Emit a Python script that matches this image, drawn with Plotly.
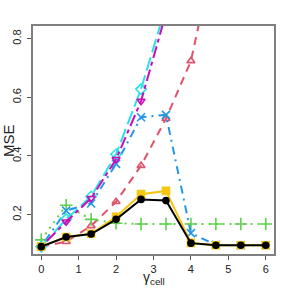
import plotly.graph_objects as go

gamma = [0, 2/3, 4/3, 2, 8/3, 10/3, 4, 14/3, 16/3, 6]

mse_black = [0.091, 0.124, 0.134, 0.184, 0.252, 0.248, 0.103, 0.096, 0.096, 0.096]
mse_yellow = [0.091, 0.124, 0.135, 0.193, 0.270, 0.281, 0.104, 0.096, 0.096, 0.096]
mse_green = [0.114, 0.232, 0.184, 0.171, 0.168, 0.168, 0.168, 0.168, 0.168, 0.168]
mse_pink = [0.091, 0.108, 0.162, 0.244, 0.367, 0.527, 0.724, 1.11, 1.50, 1.90]
mse_blue = [0.091, 0.214, 0.238, 0.373, 0.532, 0.540, 0.137, 0.097, 0.096, 0.096]
mse_cyan = [0.091, 0.185, 0.262, 0.406, 0.628, 0.910, 1.30, 1.70, 2.10, 2.50]
mse_magenta = [0.091, 0.176, 0.256, 0.389, 0.587, 0.886, 1.25, 1.65, 2.05, 2.45]

series = [
    (mse_pink, "#DF536B", "8px,6px", "triangle-up-open", 7),
    (mse_green, "#61D04F", "2px,5px", "cross-thin-open", 9),
    (mse_blue, "#2297E6", "2px,5px,8px,5px", "x-thin-open", 8),
    (mse_cyan, "#28E2E5", "14px,5px", "diamond-open", 8),
    (mse_magenta, "#CD0BBC", "4px,4px,12px,4px", "triangle-down-open", 7),
    (mse_yellow, "#F5C710", "solid", "square", 7),
    (mse_black, "#000000", "solid", "circle", 6),
]

fig = go.Figure()
for ys, col, dash, sym, sz in series:
    fig.add_trace(go.Scatter(
        x=gamma, y=ys, mode="lines+markers",
        line=dict(color=col, width=2, dash=dash),
        marker=dict(symbol=sym, size=sz, color=col,
                    line=dict(color=col, width=1.6)),
        cliponaxis=True, showlegend=False,
    ))

axis_common = dict(
    showline=True, mirror=True, linecolor="#808080", linewidth=1.5,
    ticks="outside", ticklen=4, tickcolor="#555555", tickwidth=1,
    showgrid=False, zeroline=False, automargin=False,
    tickfont=dict(family="Liberation Sans", size=11, color="#222222"),
)

fig.update_layout(
    width=288, height=288,
    margin=dict(l=33, r=14, t=26, b=34, autoexpand=False),
    paper_bgcolor="white", plot_bgcolor="white",
    xaxis=dict(range=[-0.22, 6.22], tickvals=[0, 1, 2, 3, 4, 5, 6],
               ticklabelstandoff=0, **axis_common),
    yaxis=dict(range=[0.066, 0.843], tickvals=[0.2, 0.4, 0.6, 0.8],
               ticktext=["0.2", "0.4", "0.6", "0.8"], tickangle=-90,
               ticklabelstandoff=2, **axis_common),
    annotations=[
        dict(text="γ<sub>cell</sub>", xref="paper", yref="paper",
             x=0.5, y=-0.055, xanchor="center", yanchor="top", showarrow=False,
             font=dict(family="Liberation Sans", size=14, color="#222222")),
        dict(text="MSE", xref="paper", yref="paper", textangle=-90,
             x=-0.104, y=0.5, xanchor="center", yanchor="middle", showarrow=False,
             font=dict(family="Liberation Sans", size=15, color="#222222")),
    ],
)

fig.write_html("out.html", config={"displayModeBar": False},
               post_script="document.body.style.margin='0';")
